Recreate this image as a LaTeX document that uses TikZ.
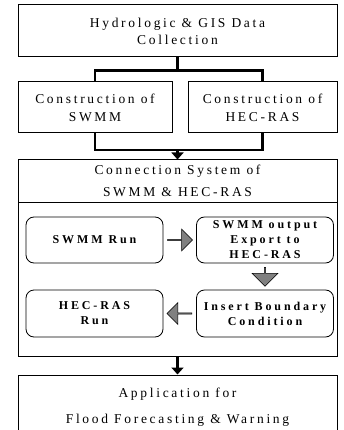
\documentclass[tikz,border=0pt]{standalone}
\usepackage{fontspec}
\setmainfont{Liberation Serif}
\newfontfamily\boxfont{Liberation Serif}[LetterSpace=20]
\newfontfamily\runfont{Liberation Serif}[LetterSpace=24]
\usetikzlibrary{arrows.meta,shapes.arrows,calc}

\tikzset{
  box/.style={draw,line width=1pt,align=center,inner sep=0pt,
    font=\boxfont\fontsize{13.5}{17}\selectfont},
  runbox/.style={draw,rounded corners=8pt,line width=0.8pt,align=center,inner sep=0pt,
    minimum width=137pt,minimum height=46pt,
    font=\runfont\bfseries\fontsize{12}{15}\selectfont},
  link/.style={line width=2.4pt},
  feed/.style={line width=2.4pt,-{Triangle[width=12pt,length=7pt]}},
  blockarrow/.style={single arrow,draw,fill=gray,line width=0.6pt,inner sep=0pt,
    minimum height=25pt,minimum width=22pt,single arrow head extend=5pt}
}

\begin{document}
\begin{tikzpicture}[x=1pt,y=-1pt]
\useasboundingbox (0,0) rectangle (343,430);

% data and model set-up
\node[box,minimum width=319pt,minimum height=52pt] (data) at (177.5,31) {Hydrologic \& GIS Data\\Collection};
\node[box,minimum width=154pt,minimum height=51pt] (swmmc) at (95,107.5) {Construction of\\[1pt]SWMM};
\node[box,minimum width=149pt,minimum height=51pt] (hecc) at (262.5,107.5) {Construction of\\[1pt]HEC-RAS};

% connection system
\node[box,minimum width=319pt,minimum height=196pt] (conn) at (177.5,258) {};
\node[box,minimum width=319pt,minimum height=42pt] (connhead) at (177.5,181) {Connection System of\\[5pt]SWMM \& HEC-RAS};
\node[runbox] (run) at (94.5,240) {SWMM Run};
\node[runbox] (export) at (265,240) {SWMM output\\Export to\\HEC-RAS};
\node[runbox,minimum height=47pt] (hecrun) at (94.5,313.5) {HEC-RAS\\Run};
\node[runbox,minimum height=47pt] (bound) at (265,313.5) {Insert Boundary\\Condition};

% application
\node[box,minimum width=319pt,minimum height=64pt] (app) at (177.5,407) {Application for\\[9pt]Flood Forecasting \& Warning};

% connectors
\draw[link] (data.south) -- ++(0,13) coordinate (split);
\draw[link] (swmmc.north) |- (split) -| (hecc.north);
\coordinate (join) at (177.5,150);
\draw[link] (swmmc.south) |- (join) -| (hecc.south);
\draw[feed] (join) -- (conn.north);
\draw[feed] (conn.south) -- (app.north);

\node[blockarrow] (runarrow) at ($(run.east)!0.5!(export.west)$) {};
\node[blockarrow,minimum height=19pt,minimum width=26pt,single arrow head extend=6pt,
  shape border rotate=270] (exportarrow) at ($(export.south)!0.5!(bound.north)$) {};
\node[blockarrow,shape border rotate=180] (boundarrow) at ($(bound.west)!0.5!(hecrun.east)$) {};
\end{tikzpicture}
\end{document}
